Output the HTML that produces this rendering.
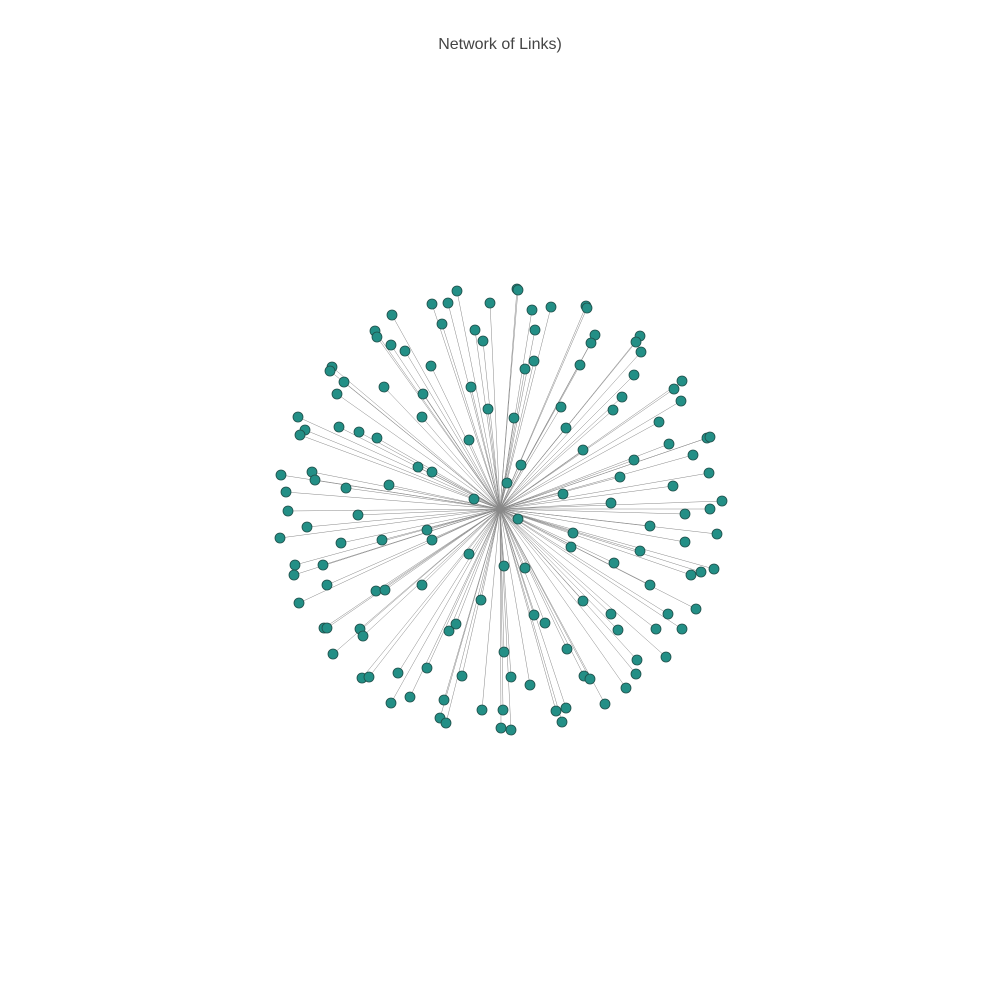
<!DOCTYPE html>
<html><head><meta charset="utf-8"><style>
html,body{margin:0;padding:0;background:#fff}
svg{display:block}
</style></head><body>
<svg id="chart" width="1000" height="1000" xmlns="http://www.w3.org/2000/svg">
<rect width="1000" height="1000" fill="#fff"/>
<text x="500" y="49" text-anchor="middle" font-family="Liberation Sans, sans-serif" font-size="16" fill="#444">Network of Links)</text>
<g id="edges"></g>
<g id="nodes"></g>
</svg>
<script>
const centerX = 0, centerY = 0;
const nodeX = [0.17,0.18,-0.43,-0.52,-0.68,-0.10,0.32,0.51,0.86,0.87,-1.08,-0.58,-0.25,0.35,0.95,-1.25,-1.23,-0.17,0.91,1.40,1.36,-1.09,-0.95,1.41,0.34,0.25,0.80,-0.69,-1.68,-1.70,-1.56,-1.16,-0.29,1.34,1.82,1.74,-0.77,-1.63,1.22,1.81,-0.12,0.61,1.13,0.14,-0.78,-2.02,-1.61,0.66,-1.95,-2.00,-1.41,-1.23,1.59,-0.31,2.07,2.10,0.83,1.69,1.93,1.34,0.21,-0.82,-0.68,-1.88,-1.85,-2.19,-1.54,-1.11,1.20,2.09,1.73,0.07,-2.14,0.63,-0.26,2.22,1.11,2.10,-2.12,-1.42,1.85,0.18,-1.93,-0.73,1.50,2.17,0.73,-2.20,-0.68,-1.18,-1.59,1.85,0.71,1.40,-0.31,-2.05,-1.77,-2.06,1.14,0.04,0.25,2.14,2.01,1.91,-1.73,-0.78,1.50,-1.24,-1.15,-0.19,0.83,-2.01,1.96,0.34,1.11,1.68,0.45,-0.44,-0.51,-1.76,-1.73,-1.40,-1.37,1.18,1.56,1.82,0.67,0.04,-1.67,1.37,1.66,-0.73,-1.02,-0.38,0.11,-1.38,-1.31,0.84,0.90,1.36,0.30,1.26,-0.90,-0.56,-1.09,1.05,-0.18,0.03,0.56,0.66,-0.60,-0.54,0.62,0.01,0.11];
const nodeY = [2.20,2.19,2.18,2.06,2.05,2.06,1.99,2.02,2.03,2.01,1.94,1.85,1.79,1.79,1.74,1.78,1.72,1.68,1.66,1.73,1.67,1.64,1.58,1.57,1.48,1.40,1.44,1.43,1.42,1.38,1.27,1.22,1.22,1.34,1.28,1.20,1.15,1.15,1.12,1.08,1.00,1.02,0.99,0.91,0.92,0.92,0.82,0.81,0.79,0.74,0.77,0.71,0.87,0.69,0.71,0.72,0.59,0.65,0.54,0.49,0.44,0.42,0.37,0.37,0.29,0.34,0.21,0.24,0.32,0.36,0.23,0.26,0.17,0.15,0.10,0.08,0.06,0.00,-0.02,-0.06,-0.05,-0.10,-0.18,-0.21,-0.17,-0.25,-0.24,-0.29,-0.31,-0.31,-0.34,-0.33,-0.38,-0.42,-0.45,-0.56,-0.56,-0.66,-0.54,-0.57,-0.59,-0.60,-0.63,-0.66,-0.76,-0.76,-0.76,-0.82,-0.81,-0.91,-0.92,-0.94,-1.00,-1.06,-1.05,-1.05,-1.14,-1.15,-1.22,-1.19,-1.19,-1.20,-1.27,-1.21,-1.20,-1.20,-1.40,-1.43,-1.45,-1.51,-1.48,-1.59,-1.64,-1.67,-1.68,-1.69,-1.68,-1.67,-1.70,-1.65,-1.76,-1.79,-1.88,-1.91,-1.94,-1.95,-2.01,-2.01,-2.02,-1.99,-2.09,-2.14,-2.13,-2.19,-2.21];
const sx = v => 500 + v * 100;
const sy = v => 509 - v * 100;
const NS = 'http://www.w3.org/2000/svg';
const eg = document.getElementById('edges');
const ng = document.getElementById('nodes');
for (let i = 0; i < nodeX.length; i++) {
  const l = document.createElementNS(NS, 'line');
  l.setAttribute('x1', sx(centerX)); l.setAttribute('y1', sy(centerY));
  l.setAttribute('x2', sx(nodeX[i])); l.setAttribute('y2', sy(nodeY[i]));
  l.setAttribute('stroke', '#888'); l.setAttribute('stroke-width', '0.5');
  
  
  eg.appendChild(l);
}
const hub = document.createElementNS(NS, 'circle');
hub.setAttribute('cx', sx(centerX)); hub.setAttribute('cy', sy(centerY)); hub.setAttribute('r', 4);
hub.setAttribute('fill', '#888');


ng.appendChild(hub);
for (let i = 0; i < nodeX.length; i++) {
  const c = document.createElementNS(NS, 'circle');
  c.setAttribute('cx', sx(nodeX[i])); c.setAttribute('cy', sy(nodeY[i])); c.setAttribute('r', 5);
  c.setAttribute('fill', '#238f86'); c.setAttribute('stroke', '#1f4f4a'); c.setAttribute('stroke-width', '0.8');
  
  
  ng.appendChild(c);
}
</script>
</body></html>
